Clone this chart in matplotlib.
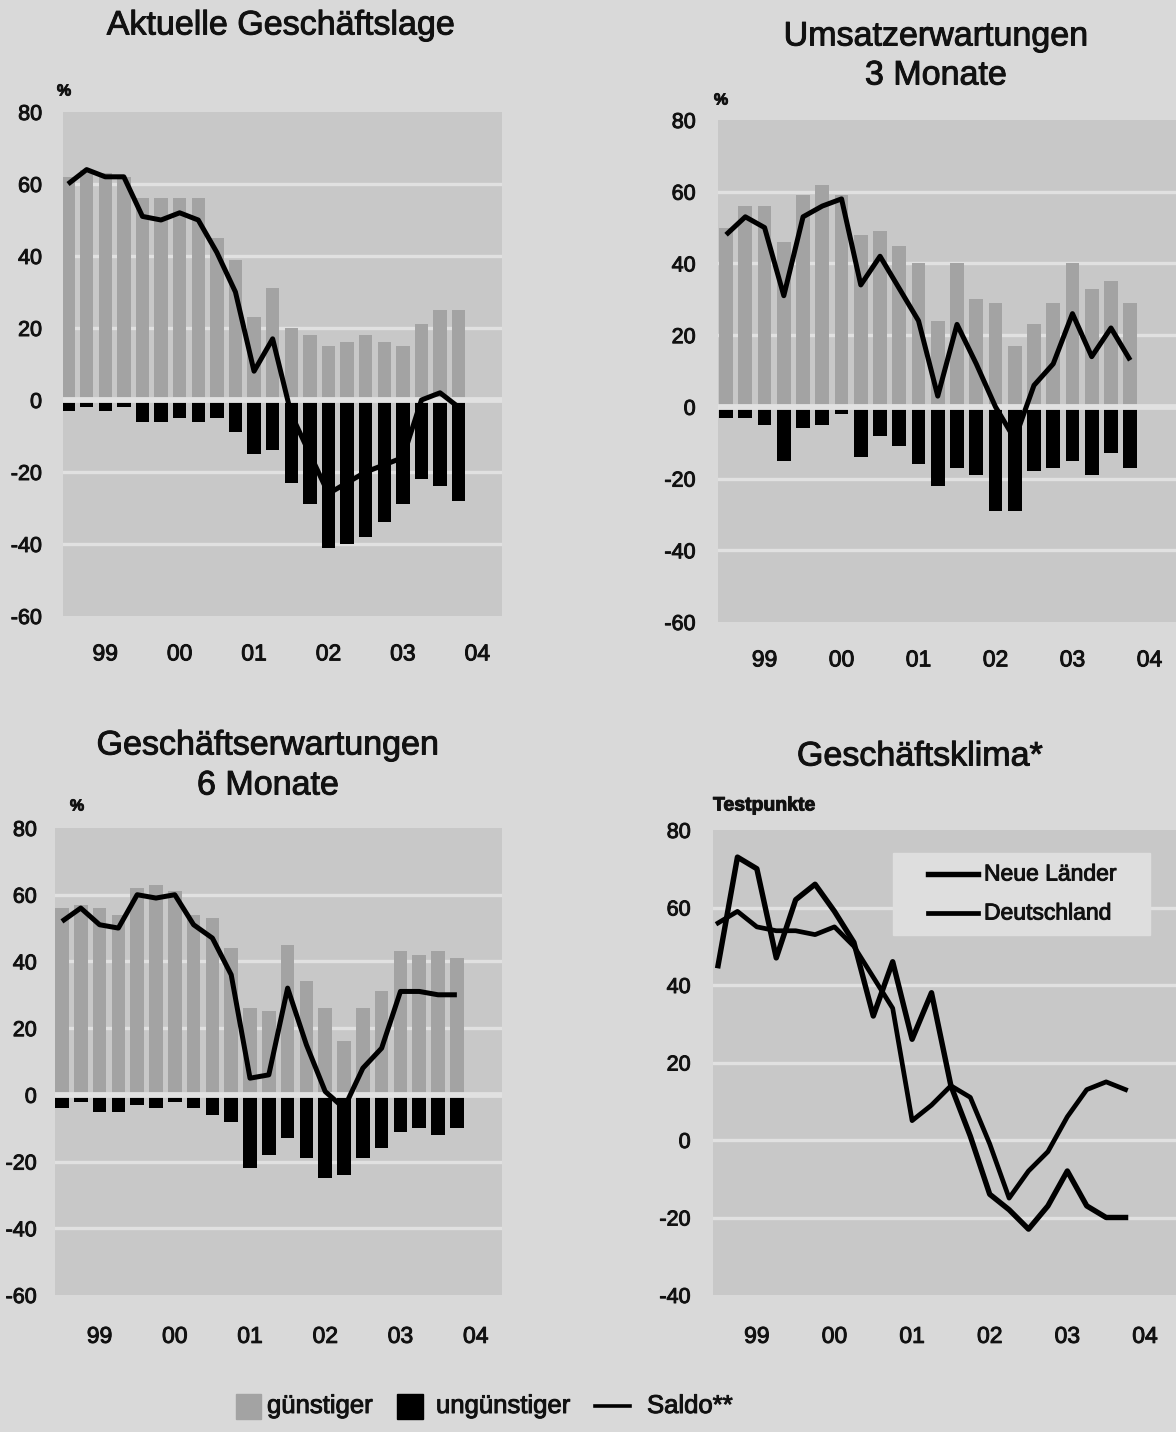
import matplotlib
matplotlib.use("Agg")
import matplotlib.pyplot as plt
import matplotlib.patheffects as pe
from matplotlib.text import Text
from matplotlib.patches import Rectangle
from matplotlib.lines import Line2D

plt.rcParams['font.family'] = ['Liberation Sans', 'DejaVu Sans']

W, H = 1176, 1432
DPI = 100

# ---------------- data (quarterly, 1998/IV .. 2004/I) ----------------
quarters = list(range(22))
year_ticks = [2, 6, 10, 14, 18, 22]
year_labels = ['99', '00', '01', '02', '03', '04']

lage_guenstig = [62, 64, 63, 62, 56, 56, 56, 56, 45, 39, 23, 31, 20, 18, 15, 16, 18, 16, 15, 21, 25, 25]
lage_unguenstig = [-3, -2, -3, -2, -6, -6, -5, -6, -5, -9, -15, -14, -23, -29, -41, -40, -38, -34, -29, -22, -24, -28]
lage_saldo = [60, 64, 62, 62, 51, 50, 52, 50, 41, 30, 8, 17, -4, -15, -26, -23, -20, -18, -16, 0, 2, -2]

umsatz_guenstig = [50, 56, 56, 46, 59, 62, 59, 48, 49, 45, 40, 24, 40, 30, 29, 17, 23, 29, 40, 33, 35, 29]
umsatz_unguenstig = [-3, -3, -5, -15, -6, -5, -2, -14, -8, -11, -16, -22, -17, -19, -29, -29, -18, -17, -15, -19, -13, -17]
umsatz_saldo = [48, 53, 50, 31, 53, 56, 58, 34, 42, 33, 24, 3, 23, 12, 0, -9, 6, 12, 26, 14, 22, 13]

erw_guenstig = [56, 57, 56, 54, 62, 63, 61, 54, 53, 44, 26, 25, 45, 34, 26, 16, 26, 31, 43, 42, 43, 41]
erw_unguenstig = [-4, -2, -5, -5, -3, -4, -2, -4, -6, -8, -22, -18, -13, -19, -25, -24, -19, -16, -11, -10, -12, -10]
erw_saldo = [52, 56, 51, 50, 60, 59, 60, 51, 47, 36, 5, 6, 32, 15, 1, -4, 8, 14, 31, 31, 30, 30]

klima_neue_laender = [45, 73, 70, 47, 62, 66, 59, 51, 32, 46, 26, 38, 14, 1, -14, -18, -23, -17, -8, -17, -20, -20]
klima_deutschland = [56, 59, 55, 54, 54, 53, 55, 50, 42, 34, 5, 9, 14, 11, -1, -15, -8, -3, 6, 13, 15, 13]

# ---------------- style ----------------
PAGE = '#d9d9d9'
PANEL = '#c8c8c8'
GRID = '#e1e1e1'
BAR_POS = '#a3a3a3'
BAR_NEG = '#000000'
TXT = '#111111'
TITLE_SIZE = 24.5

fig = plt.figure(figsize=(W / DPI, H / DPI), dpi=DPI, facecolor=PAGE)


def rect(left, top, right, bottom):
    return [left / W, 1 - bottom / H, (right - left) / W, (bottom - top) / H]


def ftext(x, y, s, **kw):
    fig.text(x / W, 1 - y / H, s, color=TXT, **kw)


def style_axes(ax, xlim, ylim, yticks, ypad=16, xpad=19):
    ax.set_facecolor(PANEL)
    ax.set_xlim(*xlim)
    ax.set_ylim(*ylim)
    for sp in ax.spines.values():
        sp.set_visible(False)
    ax.set_yticks(yticks)
    ax.set_yticklabels([str(v) for v in yticks])
    ax.set_xticks(year_ticks)
    ax.set_xticklabels(year_labels)
    ax.tick_params(axis='y', length=0, pad=ypad, labelsize=15.5, labelcolor=TXT)
    ax.tick_params(axis='x', length=0, pad=xpad, labelsize=16.5, labelcolor=TXT)
    for v in yticks[1:-1]:
        if v != 0:
            ax.axhline(v, color=GRID, lw=2.4, zorder=0.5)


def bar_panel(box, xlim, pos, neg, saldo, ypad=16, xpad=19):
    ax = fig.add_axes(rect(*box))
    yt = [-60, -40, -20, 0, 20, 40, 60, 80]
    style_axes(ax, xlim, (-60, 80), yt, ypad, xpad)
    ax.bar(quarters, pos, width=0.72, color=BAR_POS, zorder=1)
    ax.bar(quarters, neg, width=0.72, color=BAR_NEG, zorder=1)
    ax.axhline(0, color=GRID, lw=4.2, zorder=2)
    ax.plot(quarters, saldo, color='black', lw=3.6, zorder=5,
            solid_joinstyle='round', solid_capstyle='butt')
    return ax


# Aktuelle Geschäftslage
bar_panel((63, 112, 502, 616), (-0.27, 23.33), lage_guenstig, lage_unguenstig, lage_saldo,
          ypad=15, xpad=19)
ftext(281, 26, 'Aktuelle Geschäftslage', fontsize=TITLE_SIZE, ha='center', va='center')
ftext(64, 91, '%', fontsize=11.5, ha='center', va='center', fontweight='bold')

# Umsatzerwartungen 3 Monate
bar_panel((718, 120, 1176, 622), (-0.42, 23.38), umsatz_guenstig, umsatz_unguenstig, umsatz_saldo,
          ypad=16, xpad=19)
ftext(936, 37, 'Umsatzerwartungen', fontsize=TITLE_SIZE, ha='center', va='center')
ftext(936, 76, '3 Monate', fontsize=TITLE_SIZE, ha='center', va='center')
ftext(721, 100, '%', fontsize=11.5, ha='center', va='center', fontweight='bold')

# Geschäftserwartungen 6 Monate
bar_panel((55, 828, 502, 1295), (-0.37, 23.4), erw_guenstig, erw_unguenstig, erw_saldo,
          ypad=13, xpad=21.5)
ftext(268, 746, 'Geschäftserwartungen', fontsize=TITLE_SIZE, ha='center', va='center')
ftext(268, 786, '6 Monate', fontsize=TITLE_SIZE, ha='center', va='center')
ftext(77, 806, '%', fontsize=11.5, ha='center', va='center', fontweight='bold')

# Geschäftsklima
ax4 = fig.add_axes(rect(713, 830, 1176, 1295))
style_axes(ax4, (-0.26, 23.6), (-40, 80), [-40, -20, 0, 20, 40, 60, 80], ypad=16, xpad=21.5)
ax4.axhline(0, color=GRID, lw=2.4, zorder=0.5)
ax4.plot(quarters, klima_neue_laender, color='black', lw=3.9, zorder=5,
         solid_joinstyle='round', label='Neue Länder')
ax4.plot(quarters, klima_deutschland, color='black', lw=3.4, zorder=5,
         solid_joinstyle='round', label='Deutschland')
ftext(920, 757, 'Geschäftsklima*', fontsize=TITLE_SIZE, ha='center', va='center')
ftext(713, 806, 'Testpunkte', fontsize=14, ha='left', va='center', fontweight='bold')

# ---------------- overlay for legends (pixel coordinates) ----------------
ov = fig.add_axes([0, 0, 1, 1])
ov.set_xlim(0, W)
ov.set_ylim(H, 0)
ov.axis('off')
ov.patch.set_alpha(0)

# series key inside the Geschäftsklima panel
ov.add_patch(Rectangle((893, 853), 257, 82, color='#dedede', zorder=6))
for yy, lbl, lw in [(874, 'Neue Länder', 3.9), (913, 'Deutschland', 3.4)]:
    ov.add_line(Line2D([928, 978], [yy, yy], color='black', lw=lw, zorder=7))
    ov.text(984, yy, lbl, fontsize=16.5, color=TXT, ha='left', va='center', zorder=7)

# shared key at the bottom
ly = 1406
ov.add_patch(Rectangle((236, ly - 12), 25, 25, color=BAR_POS))
ov.text(267, ly, 'günstiger', fontsize=18.5, color=TXT, ha='left', va='center')
ov.add_patch(Rectangle((397, ly - 12), 26, 25, color=BAR_NEG))
ov.text(436, ly, 'ungünstiger', fontsize=18.5, color=TXT, ha='left', va='center')
ov.add_line(Line2D([595, 630], [ly, ly], color='black', lw=2.6))
ov.text(647, ly, 'Saldo**', fontsize=18.5, color=TXT, ha='left', va='center')

# slightly heavier lettering, as in the printed original
heavy = [pe.withStroke(linewidth=0.7, foreground=TXT)]
for t in fig.findobj(Text):
    if t.get_text():
        t.set_path_effects(heavy)

fig.savefig('out.png', dpi=DPI, facecolor=PAGE)
